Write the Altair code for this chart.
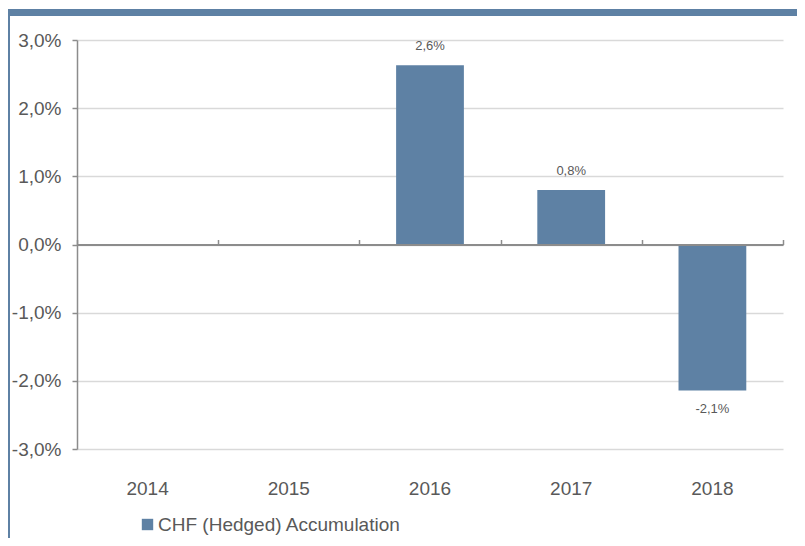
import altair as alt
import pandas as pd

years = ["2014", "2015", "2016", "2017", "2018"]
values = [None, None, 0.0263, 0.0080, -0.0214]
series_name = "CHF (Hedged) Accumulation"
y_ticks = [-0.03, -0.02, -0.01, 0.0, 0.01, 0.02, 0.03]

df = pd.DataFrame({"year": years, "value": values, "series": [series_name] * len(years)})

BLUE = "#5E81A4"
GRAY_TXT = "#595959"
FONT = "Liberation Sans"
AX_FS = 19

fmt = "replace(replace(format(datum.value, '.1%'), '.', ','), '\u2212', '-')"

xscale = alt.Scale(domain=years, paddingInner=0.52, paddingOuter=0.26)
xscale0 = alt.Scale(domain=years, paddingInner=0, paddingOuter=0)
yscale = alt.Scale(domain=[-0.03, 0.03], nice=False)

base = alt.Chart(df)

bars = base.mark_bar(color=BLUE).encode(
    x=alt.X("year:N", scale=xscale, title=None,
            axis=alt.Axis(labelAngle=0, domain=False, ticks=False, tickSize=0,
                          labelPadding=30, labelFontSize=AX_FS, labelColor=GRAY_TXT,
                          labelFont=FONT, grid=False)),
    y=alt.Y("value:Q", scale=yscale, title=None,
            axis=alt.Axis(values=y_ticks, labelExpr=fmt, labelFontSize=AX_FS,
                          labelColor=GRAY_TXT, labelFont=FONT, tickSize=5,
                          labelPadding=11, domainColor="#8c8c8c", tickColor="#8c8c8c",
                          domainWidth=1.5, tickWidth=1.5, gridColor="#d9d9d9",
                          gridWidth=1.5)),
    color=alt.Color("series:N", scale=alt.Scale(range=[BLUE]), title=None,
                    legend=alt.Legend(orient="none", legendX=61, legendY=475,
                                      symbolType="square", symbolSize=130,
                                      symbolStrokeWidth=0, labelFontSize=19,
                                      labelColor=GRAY_TXT, labelFont=FONT,
                                      labelOffset=1, padding=0, labelLimit=0)),
)

labels_pos = base.transform_filter("datum.value > 0").transform_calculate(
    lab="replace(format(datum.value, '.1%'), '.', ',')"
).mark_text(baseline="bottom", dy=-12, fontSize=13, color=GRAY_TXT, font=FONT).encode(
    x=alt.X("year:N", scale=xscale, axis=None),
    y=alt.Y("value:Q", scale=yscale),
    text="lab:N",
)

labels_neg = base.transform_filter("datum.value < 0").transform_calculate(
    lab="replace(replace(format(datum.value, '.1%'), '.', ','), '\u2212', '-')"
).mark_text(baseline="top", dy=13, fontSize=13, color=GRAY_TXT, font=FONT).encode(
    x=alt.X("year:N", scale=xscale, axis=None),
    y=alt.Y("value:Q", scale=yscale),
    text="lab:N",
)

zero_axis = base.mark_point(opacity=0).encode(
    x=alt.X("year:N", scale=xscale0, title=None,
            axis=alt.Axis(labels=False, offset=-204.5, tickBand="extent", tickSize=5,
                          domainColor="#8c8c8c", tickColor="#8c8c8c",
                          domainWidth=2, tickWidth=1.5, grid=False, zindex=1)),
)

top_band = base.mark_rule(color=BLUE, strokeWidth=6.5).encode(
    x=alt.value(-69), x2=alt.value(728), y=alt.value(-27.5)
)
left_line = base.mark_rule(color=BLUE, strokeWidth=2).encode(
    x=alt.value(-68), y=alt.value(-31), y2=alt.value(510)
)

chart = alt.layer(bars, labels_pos, labels_neg, zero_axis, top_band, left_line).resolve_scale(
    x="independent"
).resolve_axis(
    x="independent"
).properties(
    width=706, height=409, autosize=alt.AutoSizeParams(type="none"),
    padding={"left": 69, "top": 32, "right": 14, "bottom": 89},
).configure_view(stroke=None)

chart.save("out.html", embed_options={"renderer": "svg", "actions": False})
